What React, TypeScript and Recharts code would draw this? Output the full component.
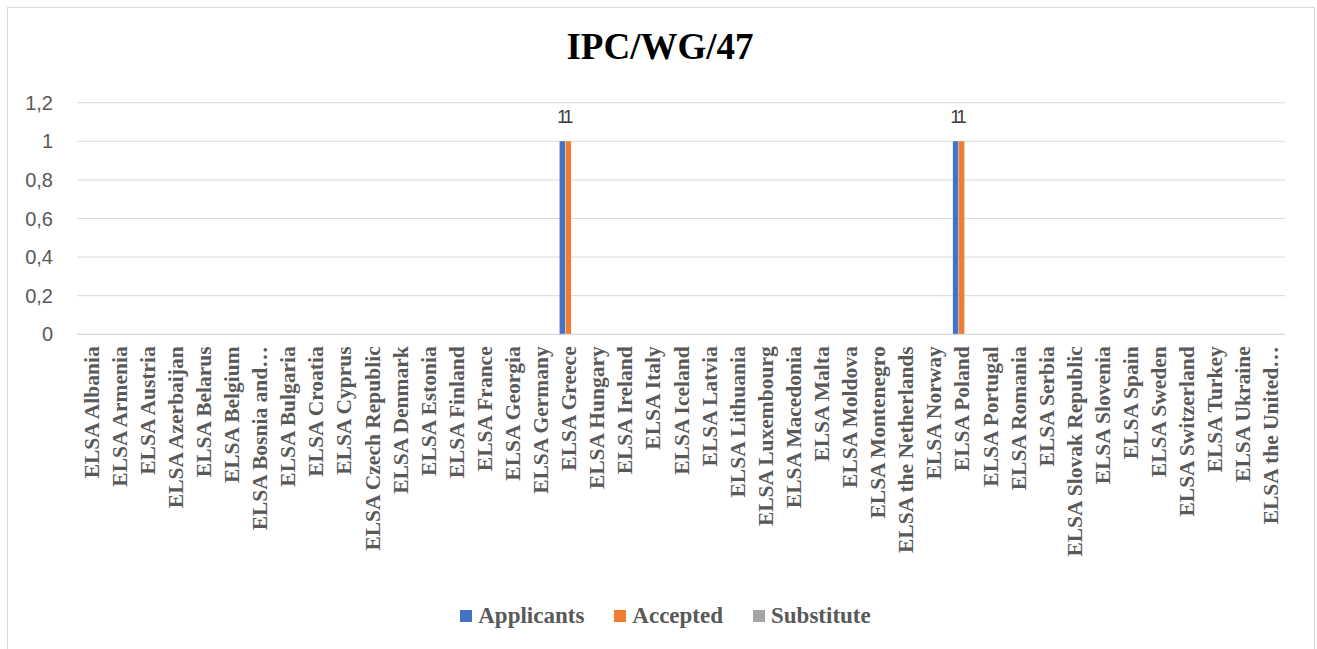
import React from "react";
import { BarChart, Bar, XAxis, YAxis, CartesianGrid, Legend, LabelList } from "recharts";

const categories = [
  "ELSA Albania", "ELSA Armenia", "ELSA Austria", "ELSA Azerbaijan", "ELSA Belarus", "ELSA Belgium",
  "ELSA Bosnia and…", "ELSA Bulgaria", "ELSA Croatia", "ELSA Cyprus", "ELSA Czech Republic", "ELSA Denmark",
  "ELSA Estonia", "ELSA Finland", "ELSA France", "ELSA Georgia", "ELSA Germany", "ELSA Greece",
  "ELSA Hungary", "ELSA Ireland", "ELSA Italy", "ELSA Iceland", "ELSA Latvia", "ELSA Lithuania",
  "ELSA Luxembourg", "ELSA Macedonia", "ELSA Malta", "ELSA Moldova", "ELSA Montenegro",
  "ELSA the Netherlands", "ELSA Norway", "ELSA Poland", "ELSA Portugal", "ELSA Romania", "ELSA Serbia",
  "ELSA Slovak Republic", "ELSA Slovenia", "ELSA Spain", "ELSA Sweden", "ELSA Switzerland",
  "ELSA Turkey", "ELSA Ukraine", "ELSA the United…",
];

const applicants: (number | null)[] = categories.map((c) =>
  c === "ELSA Greece" ? 1 : c === "ELSA Poland" ? 1 : null
);
const accepted: (number | null)[] = categories.map((c) =>
  c === "ELSA Greece" ? 1 : c === "ELSA Poland" ? 1 : null
);
const substitute: (number | null)[] = categories.map(() => null);

const yTicks = [0, 0.2, 0.4, 0.6, 0.8, 1, 1.2];

const seriesNames = ["Applicants", "Accepted", "Substitute"];
const seriesColors = ["#4472C4", "#ED7D31", "#A5A5A5"];

const data = categories.map((name, i) => ({
  name,
  Applicants: applicants[i],
  Accepted: accepted[i],
  Substitute: substitute[i],
}));

const SERIF = "'Liberation Serif', 'Times New Roman', serif";
const SANS = "'Liberation Sans', Arial, sans-serif";

const XTick = (props: any) => {
  const { x, y, payload } = props;
  return (
    <g transform={`translate(${x},${y + 4}) rotate(-90)`}>
      <text
        x={0}
        y={0}
        dy="0.35em"
        textAnchor="end"
        fill="#595959"
        fontFamily={SERIF}
        fontWeight="bold"
        fontSize={21.5}
      >
        {payload.value}
      </text>
    </g>
  );
};

const LegendContent = () => (
  <div
    style={{
      display: "flex",
      justifyContent: "center",
      alignItems: "center",
      height: 30,
      paddingLeft: 38,
    }}
  >
    {seriesNames.map((n, i) => (
      <div key={n} style={{ display: "flex", alignItems: "center", marginRight: i < 2 ? 30 : 0 }}>
        <span style={{ width: 12, height: 12, background: seriesColors[i], display: "inline-block", marginRight: 6 }} />
        <span
          style={{
            fontFamily: SERIF,
            fontWeight: "bold",
            fontSize: 23,
            color: "#595959",
          }}
        >
          {n}
        </span>
      </div>
    ))}
  </div>
);

export default function App() {
  return (
    <div
      style={{
        position: "absolute",
        left: 7,
        top: 7,
        width: 1306,
        height: 649,
        border: "1px solid #d9d9d9",
        background: "#fff",
      }}
    >
      <div
        style={{
          position: "absolute",
          left: 0,
          width: 1304,
          top: 19,
          textAlign: "center",
          fontFamily: SERIF,
          fontWeight: "bold",
          fontSize: 37,
          lineHeight: "40px",
          color: "#000",
          zIndex: 2,
        }}
      >
        IPC/WG/47
      </div>
      <BarChart
        width={1306}
        height={649}
        data={data}
        margin={{ top: 94.7, right: 29, left: 0, bottom: 26 }}
        barCategoryGap="20%"
        barGap={0.5}
        barSize={5.5}
      >
        <CartesianGrid vertical={false} stroke="#d9d9d9" strokeWidth={1} />
        <XAxis
          dataKey="name"
          interval={0}
          height={266.7}
          tickLine={false}
          axisLine={{ stroke: "#d9d9d9" }}
          tick={<XTick />}
        />
        <YAxis
          width={69}
          domain={[0, 1.2]}
          ticks={yTicks}
          tickLine={false}
          axisLine={false}
          tickMargin={18}
          tickFormatter={(v: number) => String(v).replace(".", ",")}
          tick={{ fill: "#595959", fontSize: 20, fontFamily: SANS }}
        />
        <Legend verticalAlign="bottom" height={30} content={<LegendContent />} />
        {seriesNames.map((n, i) => (
          <Bar key={n} dataKey={n} fill={seriesColors[i]} isAnimationActive={false}>
            <LabelList dataKey={n} position="top" offset={18} fill="#404040" fontSize={19} fontFamily={SANS} />
          </Bar>
        ))}
      </BarChart>
    </div>
  );
}
